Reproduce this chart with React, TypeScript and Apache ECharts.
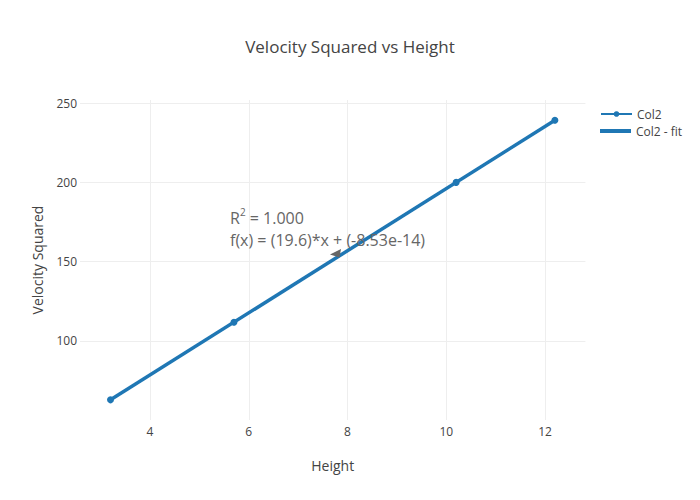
import React, { useEffect, useRef } from "react";
import * as echarts from "echarts";

const heights = [3.2, 5.7, 10.2, 12.2];
const velocitySquared = [62.72, 111.72, 199.92, 239.12];
const fitSlope = 19.6;
const fitIntercept = -8.53e-14;
const xTicks = [4, 6, 8, 10, 12];
const yTicks = [100, 150, 200, 250];

const FONT = "'Open Sans', 'Noto Sans', sans-serif";
const BLUE = "#1f77b4";

export default function App() {
  const ref = useRef<HTMLDivElement>(null);
  useEffect(() => {
    if (!ref.current) return;
    const chart = echarts.init(ref.current, undefined, { renderer: "svg" });
    const xMin = Math.min(...heights);
    const xMax = Math.max(...heights);
    const fitData = [
      [xMin, fitSlope * xMin + fitIntercept],
      [xMax, fitSlope * xMax + fitIntercept],
    ];
    const legendText = { fontFamily: FONT, fontSize: 12, color: "#444" };
    chart.setOption({
      animation: false,
      backgroundColor: "#fff",
      textStyle: { fontFamily: FONT },
      title: {
        text: "Velocity Squared vs Height",
        left: "center",
        top: 33,
        textStyle: { fontFamily: FONT, fontSize: 17, fontWeight: "normal", color: "#444" },
      },
      legend: [
        {
          orient: "vertical",
          left: 595,
          top: 103,
          itemWidth: 31,
          itemHeight: 7,
          lineStyle: { width: 2 },
          textStyle: legendText,
          data: ["Col2"],
        },
        {
          orient: "vertical",
          left: 595,
          top: 120,
          itemWidth: 31,
          itemHeight: 4,
          icon: "rect",
          textStyle: legendText,
          data: ["Col2 - fit"],
        },
      ],
      grid: { left: 80, right: 114.6, top: 100, bottom: 80, containLabel: false },
      xAxis: {
        type: "value",
        min: 2.582,
        max: 12.818,
        name: "Height",
        nameLocation: "middle",
        nameGap: 38,
        nameTextStyle: { fontFamily: FONT, fontSize: 14, color: "#444" },
        axisLine: { show: false },
        axisTick: { show: false, customValues: xTicks },
        axisLabel: { customValues: xTicks, margin: 5, fontFamily: FONT, fontSize: 12, color: "#444" },
        splitLine: { show: true, lineStyle: { color: "#eee", width: 1 } },
      },
      yAxis: {
        type: "value",
        min: 50,
        max: 251.9,
        interval: 50,
        name: "Velocity Squared",
        nameLocation: "middle",
        nameGap: 36,
        nameTextStyle: { fontFamily: FONT, fontSize: 14, color: "#444" },
        axisLine: { show: false },
        axisTick: { show: false },
        axisLabel: {
          margin: 3,
          fontFamily: FONT,
          fontSize: 12,
          color: "#444",
          formatter: (v: number) => (yTicks.includes(v) ? String(v) : ""),
        },
        splitLine: { show: true, showMinLine: false, showMaxLine: false, lineStyle: { color: "#eee", width: 1 } },
      },
      series: [
        {
          name: "Col2",
          type: "line",
          data: heights.map((h, i) => [h, velocitySquared[i]]),
          symbol: "circle",
          symbolSize: 7,
          showSymbol: true,
          lineStyle: { color: BLUE, width: 2 },
          itemStyle: { color: BLUE },
          z: 2,
        },
        {
          name: "Col2 - fit",
          type: "line",
          data: fitData,
          symbol: "none",
          showSymbol: false,
          lineStyle: { color: BLUE, width: 3.5 },
          itemStyle: { color: BLUE },
          z: 3,
        },
      ],
      graphic: [
        {
          type: "text",
          left: 230,
          top: 207,
          z: 10,
          style: {
            text: "R{sup|2} = 1.000\nf(x) = (19.6)*x + (-8.53e-14)",
            fontFamily: FONT,
            fontSize: 16,
            lineHeight: 22,
            fill: "#666",
            rich: {
              sup: { fontSize: 10, verticalAlign: "top", fill: "#666", fontFamily: FONT, lineHeight: 14, padding: [0, 0, 8, 0] },
            },
          },
        },
        {
          type: "polygon",
          z: 10,
          shape: { points: [[330, 254.5], [341, 249], [339.5, 257.5]] },
          style: { fill: "#666" },
        },
      ],
    });
    return () => chart.dispose();
  }, []);
  return (
    <div
      ref={ref}
      style={{ position: "absolute", left: 0, top: 0, width: 700, height: 500 }}
    />
  );
}
